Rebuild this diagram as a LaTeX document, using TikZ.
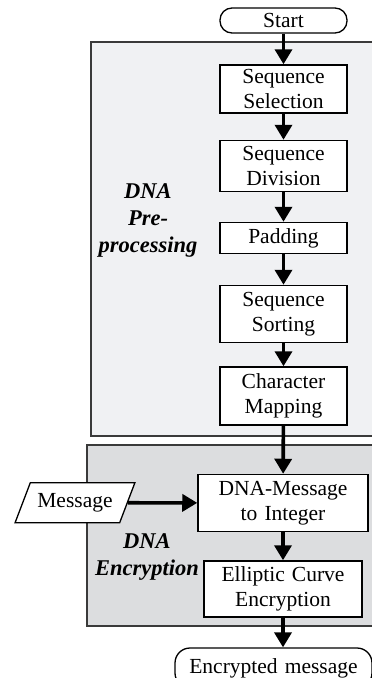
\documentclass[tikz,border=0pt]{standalone}
\usepackage{fontspec}
\setmainfont{Liberation Serif}
\usetikzlibrary{arrows.meta,shapes.geometric}

\definecolor{prepfill}{HTML}{F0F1F3}
\definecolor{encfill}{HTML}{DCDDDF}
\definecolor{grpline}{HTML}{3A3A3A}

\tikzset{
  stepbox/.style={draw, fill=white, line width=1.5pt, align=center,
    inner xsep=0pt, inner ysep=0pt, text width=#1},
  stepbox/.default=127,
  termbox/.style={draw, fill=white, line width=1.3pt, rounded corners=12pt,
    align=center, inner xsep=0pt, inner ysep=0pt, text width=#1},
  grpbox/.style={draw=grpline, line width=1.6pt},
  grplabel/.style={align=center, font=\fontsize{22.5}{27}\selectfont\bfseries\itshape},
  flow/.style={line width=3.6pt, -{Triangle[width=17pt,length=15pt]}},
}

\begin{document}
\begin{tikzpicture}[x=1pt, y=-1pt, every node/.style={font=\fontsize{21.5}{25}\selectfont}]
  \useasboundingbox (0,0) rectangle (372,678);
  \clip (0,0) rectangle (372,678);

  % group backgrounds
  \draw[grpbox, fill=prepfill] (91,42) rectangle (390,436);
  \draw[grpbox, fill=encfill] (87,445) rectangle (390,626);
  \node[grplabel] (prep) at (148,220) {DNA\\Pre-\\processing};
  \node[grplabel] (enc) at (147,557) {DNA\\Encryption};

  % steps
  \node[termbox=127, minimum height=25] (start) at (283.5,20.5) {Start};
  \node[stepbox, minimum height=48] (select) at (283.5,89) {Sequence\\Selection};
  \node[stepbox, minimum height=51] (divide) at (283.5,166) {Sequence\\Division};
  \node[stepbox, minimum height=31] (pad) at (283.5,238) {Padding};
  \node[stepbox, minimum height=57] (sort) at (283.5,314) {Sequence\\Sorting};
  \node[stepbox, minimum height=58] (map) at (283.5,396) {Character\\Mapping};
  \node[stepbox=170, minimum height=57] (toint) at (283,503) {DNA-Message\\to Integer};
  \node[stepbox=158, minimum height=56] (ecc) at (283,589) {Elliptic Curve\\Encryption};
  \node[termbox=197, minimum height=40, rounded corners=15pt] (out) at (273.5,668) {Encrypted message};
  \node[draw, fill=white, line width=1.3pt, trapezium, trapezium left angle=62,
    trapezium right angle=118, trapezium stretches=true, minimum width=120,
    minimum height=40, inner xsep=2pt] (msg) at (75,502.7) {Message};

  % connectors
  \draw[flow] (start) -- (select);
  \draw[flow] (select) -- (divide);
  \draw[flow] (divide) -- (pad);
  \draw[flow] (pad) -- (sort);
  \draw[flow] (sort) -- (map);
  \draw[flow] (map) -- (toint);
  \draw[flow] (toint) -- (ecc);
  \draw[flow] (ecc.south) -- (ecc.south |- out.north);
  \draw[flow] (msg) -- (toint);
\end{tikzpicture}
\end{document}
